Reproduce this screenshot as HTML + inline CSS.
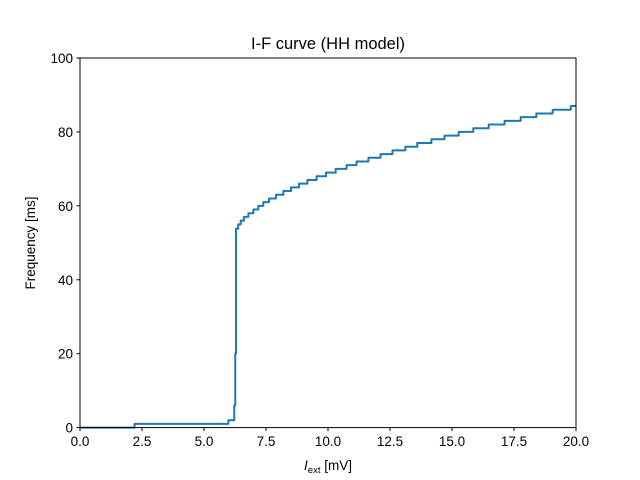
<!DOCTYPE html>
<html><head><meta charset="utf-8"><style>
body{margin:0;background:#fff}
svg{display:block;font-family:"Liberation Sans","DejaVu Sans",sans-serif}
</style></head><body>
<svg width="640" height="480">
<rect width="640" height="480" fill="#fff"/>
<text x="328" y="49" font-size="16.5" text-anchor="middle">I-F curve (HH model)</text>
<g id="ticks"></g>
<path id="line" fill="none" stroke="#1f77b4" stroke-width="2" stroke-linejoin="round"/>
<rect x="80" y="58" width="496" height="369.6" fill="none" stroke="#000" stroke-width="1"/>
<text x="328" y="470" font-size="13.5" text-anchor="middle"><tspan font-style="italic">I</tspan><tspan font-size="9.5" dy="3">ext</tspan><tspan dy="-3"> [mV]</tspan></text>
<text transform="translate(35,243) rotate(-90)" font-size="13.5" text-anchor="middle">Frequency [ms]</text>
</svg>
<script>
const xTicks=[0,2.5,5,7.5,10,12.5,15,17.5,20];
const xTickLabels=["0.0","2.5","5.0","7.5","10.0","12.5","15.0","17.5","20.0"];
const yTicks=[0,20,40,60,80,100];
const yTickLabels=["0","20","40","60","80","100"];
const currents=[0,2.2,5.98,6.22,6.26,6.29,6.38,6.48,6.61,6.79,6.99,7.19,7.39,7.62,7.9,8.2,8.51,8.83,9.17,9.54,9.92,10.31,10.75,11.15,11.63,12.12,12.6,13.12,13.6,14.17,14.7,15.27,15.86,16.48,17.12,17.77,18.4,19.06,19.79];
const freqs=[0,1,2,6,20,53.8,55,56,57,58,59,60,61,62,63,64,65,66,67,68,69,70,71,72,73,74,75,76,77,78,79,80,81,82,83,84,85,86,87];
const X=v=>80+v*24.8, Y=v=>427.6-v*3.696;
const NS="http://www.w3.org/2000/svg";
const g=document.getElementById('ticks');
function mk(t,a){const e=document.createElementNS(NS,t);for(const k in a)e.setAttribute(k,a[k]);g.appendChild(e);return e;}
xTicks.forEach((v,i)=>{
 const l=mk('line',{x1:X(v),x2:X(v),y1:427.6,y2:431.1,stroke:'#000'});
 
 
 const t=mk('text',{x:X(v),y:446,'font-size':13.5,'text-anchor':'middle'});t.textContent=xTickLabels[i];
 
 
});
yTicks.forEach((v,i)=>{
 const l=mk('line',{x1:76.5,x2:80,y1:Y(v),y2:Y(v),stroke:'#000'});
 
 
 const t=mk('text',{x:73,y:Y(v)+5,'font-size':13.5,'text-anchor':'end'});t.textContent=yTickLabels[i];
 
 
});
let d='M'+X(currents[0])+','+Y(freqs[0]);
for(let i=1;i<currents.length;i++){d+=' L'+X(currents[i])+','+Y(freqs[i-1])+' L'+X(currents[i])+','+Y(freqs[i]);}
d+=' L'+X(20)+','+Y(freqs[freqs.length-1]);
document.getElementById('line').setAttribute('d',d);
</script>
</body></html>
